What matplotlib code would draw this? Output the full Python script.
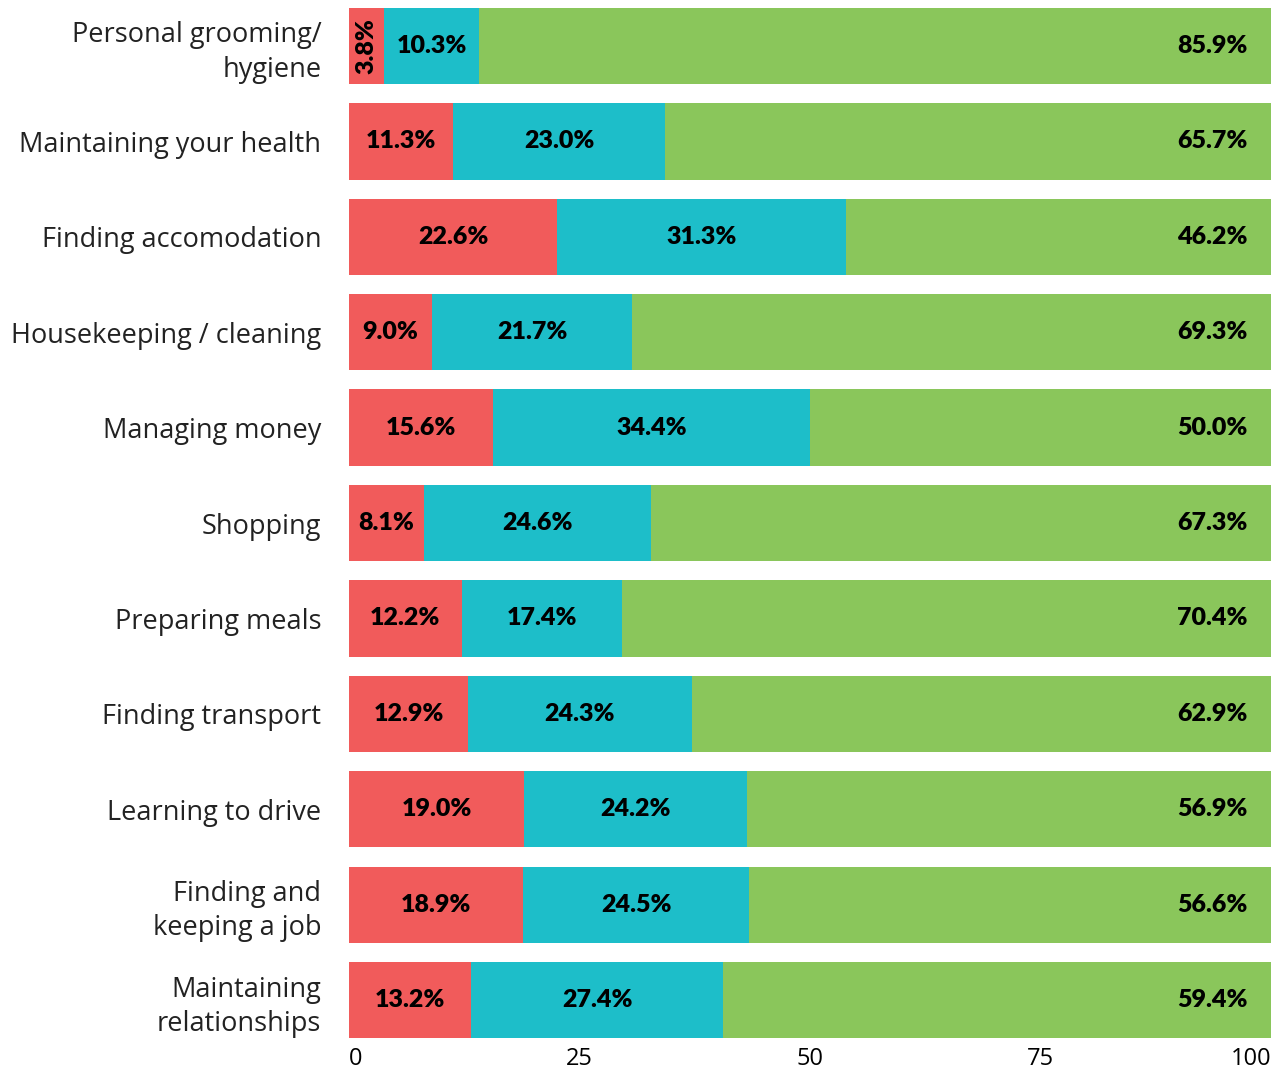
import matplotlib
matplotlib.use("Agg")
import matplotlib.pyplot as plt
import numpy as np

# ── Datos ────────────────────────────────────────────────
categorias = [
    "Personal grooming/\nhygiene",
    "Maintaining your health",
    "Finding accomodation",
    "Housekeeping / cleaning",
    "Managing money",
    "Shopping",
    "Preparing meals",
    "Finding transport",
    "Learning to drive",
    "Finding and\nkeeping a job",
    "Maintaining\nrelationships",
]
rojo  = [3.8, 11.3, 22.6, 9.0, 15.6, 8.1, 12.2, 12.9, 19.0, 18.9, 13.2]
azul  = [10.3, 23.0, 31.3, 21.7, 34.4, 24.6, 17.4, 24.3, 24.2, 24.5, 27.4]
verde = [85.9, 65.7, 46.2, 69.3, 50.0, 67.3, 70.4, 62.9, 56.9, 56.6, 59.4]
ticks_x = [0, 25, 50, 75, 100]

C_ROJO  = "#F15B5B"
C_AZUL  = "#1DBEC9"
C_VERDE = "#8AC65B"

# ── Grafica ──────────────────────────────────────────────
fig = plt.figure(figsize=(12.73, 10.70), dpi=100, facecolor="white")
ax = fig.add_axes([0.2742, 0.0252, 0.7242, 0.972])

y = np.arange(len(categorias))
rojo_a, azul_a, verde_a = np.array(rojo), np.array(azul), np.array(verde)

ax.barh(y, rojo_a, height=0.8, color=C_ROJO)
ax.barh(y, azul_a, left=rojo_a, height=0.8, color=C_AZUL)
ax.barh(y, verde_a, left=rojo_a + azul_a, height=0.8, color=C_VERDE)

fuente_val = dict(fontsize=18, fontweight="heavy", family="Lato", color="black",
                  va="center")
for i in range(len(categorias)):
    r, a, v = rojo[i], azul[i], verde[i]
    if r < 5:
        ax.text(r / 2, i, f"{r:.1f}%", rotation=90, ha="center", **fuente_val)
    else:
        ax.text(r / 2, i, f"{r:.1f}%", ha="center", **fuente_val)
    ax.text(r + a / 2, i, f"{a:.1f}%", ha="center", **fuente_val)
    ax.text(97.5, i, f"{v:.1f}%", ha="right", **fuente_val)

ax.set_xlim(0, 100)
ax.set_ylim(10.45, -0.45)
ax.set_yticks(y)
ax.set_yticklabels(categorias, fontsize=19.5, family="Open Sans", color="#222222",
                   linespacing=1.3)
ax.set_xticks(ticks_x)
ax.set_xticklabels([str(t) for t in ticks_x], fontsize=17, family="Open Sans",
                   color="black")
etiquetas = ax.get_xticklabels()
etiquetas[0].set_ha("left")
etiquetas[-1].set_ha("right")
ax.tick_params(axis="both", length=0)
ax.tick_params(axis="y", pad=20)
ax.tick_params(axis="x", pad=3)
for s in ax.spines.values():
    s.set_visible(False)

plt.savefig("out.png", dpi=100, facecolor="white")
